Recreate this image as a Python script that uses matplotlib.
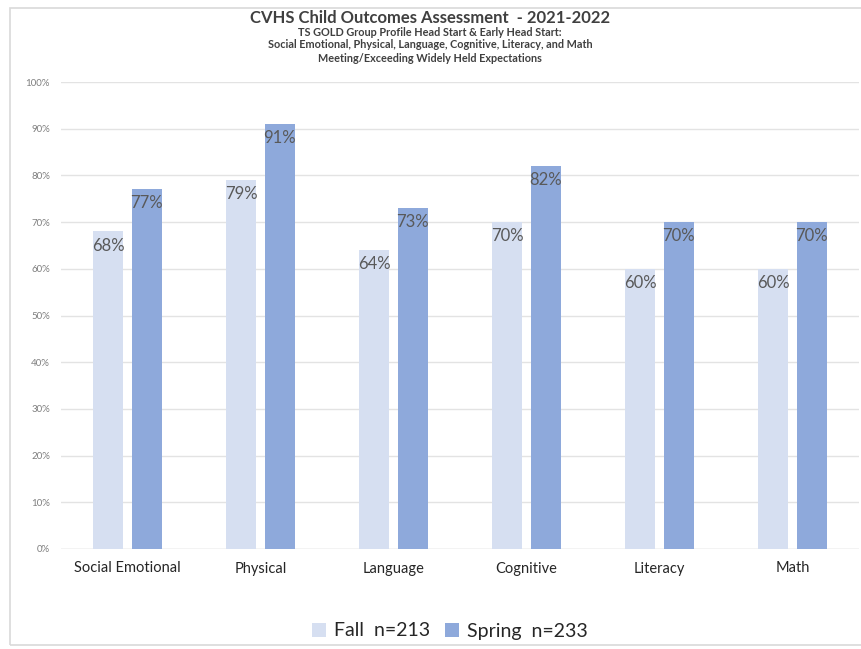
import matplotlib
matplotlib.use("Agg")
import matplotlib.pyplot as plt
import numpy as np
from matplotlib.patches import Rectangle

plt.rcParams["font.family"] = ["Lato", "DejaVu Sans"]

categories = ["Social Emotional", "Physical", "Language", "Cognitive", "Literacy", "Math"]
fall = [68, 79, 64, 70, 60, 60]
spring = [77, 91, 73, 82, 70, 70]
fall_label = "Fall  n=213"
spring_label = "Spring  n=233"

fall_color = "#D6DFF1"
spring_color = "#8EA9DB"
text_color = "#595959"

W, H = 861, 649
fig = plt.figure(figsize=(W / 100, H / 100), dpi=100)

# chart frame
fig.patches.append(Rectangle((10 / W, 4 / H), 1.2, 1 - 12 / H, transform=fig.transFigure,
                             fill=False, edgecolor="#D9D9D9", linewidth=1.2))

ax = fig.add_axes([61 / W, 1 - 549 / H, 798 / W, (549 - 82) / H])
x = np.arange(len(categories))
w = 0.225
off = 0.145
b1 = ax.bar(x - off, fall, w, color=fall_color, label=fall_label, zorder=2)
b2 = ax.bar(x + off, spring, w, color=spring_color, label=spring_label, zorder=2)

for bars, vals in ((b1, fall), (b2, spring)):
    for r, v in zip(bars, vals):
        ax.text(r.get_x() + r.get_width() / 2, v - 1.3, f"{v}%", ha="center", va="top",
                fontsize=12, color=text_color, zorder=3)

ax.set_xlim(-0.5, len(categories) - 0.5)
ax.set_ylim(0, 100)
ax.set_yticks(range(0, 101, 10))
ax.set_yticklabels([f"{v}%" for v in range(0, 101, 10)], fontsize=7, color="#7F7F7F")
ax.set_xticks(x)
ax.set_xticklabels(categories, fontsize=10.5, color="#262626")
ax.tick_params(axis="both", length=0)
ax.tick_params(axis="y", pad=8)
ax.tick_params(axis="x", pad=9)
ax.grid(axis="y", color="#E3E3E3", linewidth=1, zorder=0)
for s in ax.spines.values():
    s.set_visible(False)
ax.axhline(0, color="#D9D9D9", linewidth=1, zorder=1)

fig.text(430 / W, 1 - 18 / H, "CVHS Child Outcomes Assessment  - 2021-2022", ha="center",
         va="center", fontsize=12, fontweight="bold", color="#404040")
subs = ["TS GOLD Group Profile Head Start & Early Head Start:",
        "Social Emotional, Physical, Language, Cognitive, Literacy, and Math",
        "Meeting/Exceeding Widely Held Expectations"]
for i, s in enumerate(subs):
    fig.text(430 / W, 1 - (32 + 13 * i) / H, s, ha="center", va="center",
             fontsize=7.8, fontweight="bold", color="#404040")

fig.legend(handles=[b1, b2], labels=[fall_label, spring_label], loc="center",
           bbox_to_anchor=(450 / W, 1 - 631 / H), ncol=2, frameon=False, fontsize=14,
           handlelength=0.7, handleheight=0.7, handletextpad=0.4, columnspacing=0.8,
           labelcolor="#262626")

fig.savefig("out.png", dpi=100)
